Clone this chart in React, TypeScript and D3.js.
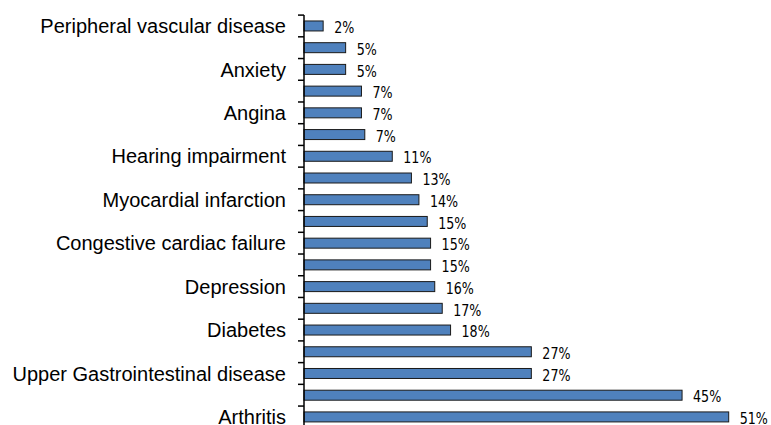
import React from "react";
import * as d3 from "d3";

const categories: string[] = [
  "Peripheral vascular disease",
  "Condition 2",
  "Anxiety",
  "Condition 4",
  "Angina",
  "Condition 6",
  "Hearing impairment",
  "Condition 8",
  "Myocardial infarction",
  "Condition 10",
  "Congestive cardiac failure",
  "Condition 12",
  "Depression",
  "Condition 14",
  "Diabetes",
  "Condition 16",
  "Upper Gastrointestinal disease",
  "Condition 18",
  "Arthritis",
];
const values: number[] = [
  2.3, 5.0, 5.0, 6.9, 6.9, 7.3, 10.6, 12.9, 13.8, 14.8, 15.2, 15.2, 15.7, 16.6, 17.6, 27.3, 27.3, 45.4, 51.0,
];
// Only every other category label is shown in the reference
const shownLabel: boolean[] = categories.map((_, i) => i % 2 === 0);

const W = 771;
const H = 425;
const axisX = 304;
const top = 15.1;
const step = 21.72;

export default function App() {
  const idx = categories.map((_, i) => String(i));
  const y = d3
    .scaleBand<string>()
    .domain(idx)
    .range([top, top + step * categories.length])
    .paddingInner(0.54)
    .paddingOuter(0.27);
  const x = d3.scaleLinear().domain([0, 51]).range([axisX, 728.7]);
  const boundaries = d3.range(categories.length + 1).map((i) => top + i * step);
  const sx = 0.88;

  return (
    <svg
      width={W}
      height={H}
      style={{ position: "absolute", left: 0, top: 0, background: "#fff" }}
    >
      <rect x={0} y={0} width={W} height={H} fill="#fff" />
      {categories.map((c, i) => {
        const yy = y(String(i))!;
        const lx = x(values[i]) + 11;
        return (
          <g key={i}>
            <rect
              x={x(0)}
              y={yy}
              width={x(values[i]) - x(0)}
              height={y.bandwidth()}
              fill="#4F81BD"
              stroke="#1a1a1a"
              strokeWidth={1}
            />
            <text
              transform={`translate(${lx},${yy + y.bandwidth() / 2}) scale(${sx},1)`}
              dy="0.45em"
              fontFamily="DejaVu Sans Condensed, DejaVu Sans"
              fontSize={16}
              fill="#000"
            >
              {Math.round(values[i])}%
            </text>
            {shownLabel[i] && (
              <text
                x={286}
                y={top + (i + 0.5) * step}
                dy="0.36em"
                textAnchor="end"
                fontFamily="Liberation Sans, Arial"
                fontSize={20}
                fill="#000"
              >
                {c}
              </text>
            )}
          </g>
        );
      })}
      <line x1={axisX} x2={axisX} y1={top} y2={boundaries[boundaries.length - 1]} stroke="#000" strokeWidth={1.5} />
      {boundaries.map((b, i) => (
        <line key={i} x1={axisX - 6} x2={axisX} y1={b} y2={b} stroke="#000" strokeWidth={1.5} />
      ))}
    </svg>
  );
}
